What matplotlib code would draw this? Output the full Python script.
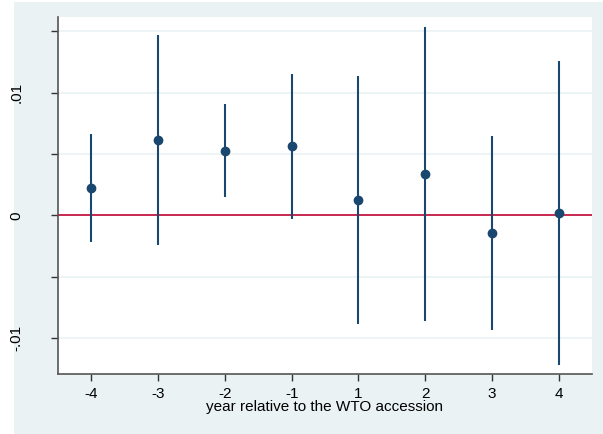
import matplotlib.pyplot as plt

plt.rcParams['font.family'] = 'sans-serif'
plt.rcParams['font.sans-serif'] = ['Liberation Sans', 'Arial', 'DejaVu Sans']

years = ['-4', '-3', '-2', '-1', '1', '2', '3', '4']
coef = [0.00225, 0.00614, 0.00527, 0.00565, 0.00125, 0.00337, -0.00142, 0.00019]
ci_low = [-0.0022, -0.00242, 0.00147, -0.0003, -0.00889, -0.00865, -0.00933, -0.01221]
ci_high = [0.00663, 0.01473, 0.00908, 0.0115, 0.01134, 0.01536, 0.00647, 0.01256]

navy = '#1a476f'
bg = '#eaf2f3'

fig = plt.figure(figsize=(6.03, 4.34), dpi=100)
# shaded graph region behind the plot
back = fig.add_axes([14 / 603, 0, 589 / 603, 432 / 434], zorder=-1)
back.set_facecolor(bg)
back.set_xticks([])
back.set_yticks([])
for s in back.spines.values():
    s.set_visible(False)

ax = fig.add_axes([58 / 603, 60 / 434, 534 / 603, 357 / 434])
ax.set_facecolor('white')

pos = list(range(1, len(years) + 1))
ax.vlines(pos, ci_low, ci_high, color=navy, linewidth=1.5, zorder=3)
ax.plot(pos, coef, 'o', color=navy, markersize=6, zorder=4)
ax.axhline(0, color='#c10534', linewidth=1.2, zorder=2)

ax.set_xlim(0.5, 8.5)
ax.set_ylim(-0.012945, 0.016175)
ax.set_xticks(pos)
ax.set_xticklabels(years, fontsize=11)
yt = [-0.01, -0.005, 0, 0.005, 0.01, 0.015]
ax.set_yticks(yt)
ax.set_yticklabels(['-.01', '', '0', '', '.01', ''], fontsize=11, rotation=90, va='center')
ax.tick_params(axis='y', length=5, width=1, color='#333333', pad=20)
ax.tick_params(axis='x', length=5, width=1, color='#333333', pad=4)
ax.grid(axis='y', color=bg, linewidth=1.2, zorder=1)
ax.set_axisbelow(True)

for s in ['top', 'right']:
    ax.spines[s].set_visible(False)
for s in ['left', 'bottom']:
    ax.spines[s].set_color('#555555')
    ax.spines[s].set_linewidth(1.2)

ax.set_xlabel('year relative to the WTO accession', fontsize=11, labelpad=0)

fig.savefig('out.png', dpi=100)
